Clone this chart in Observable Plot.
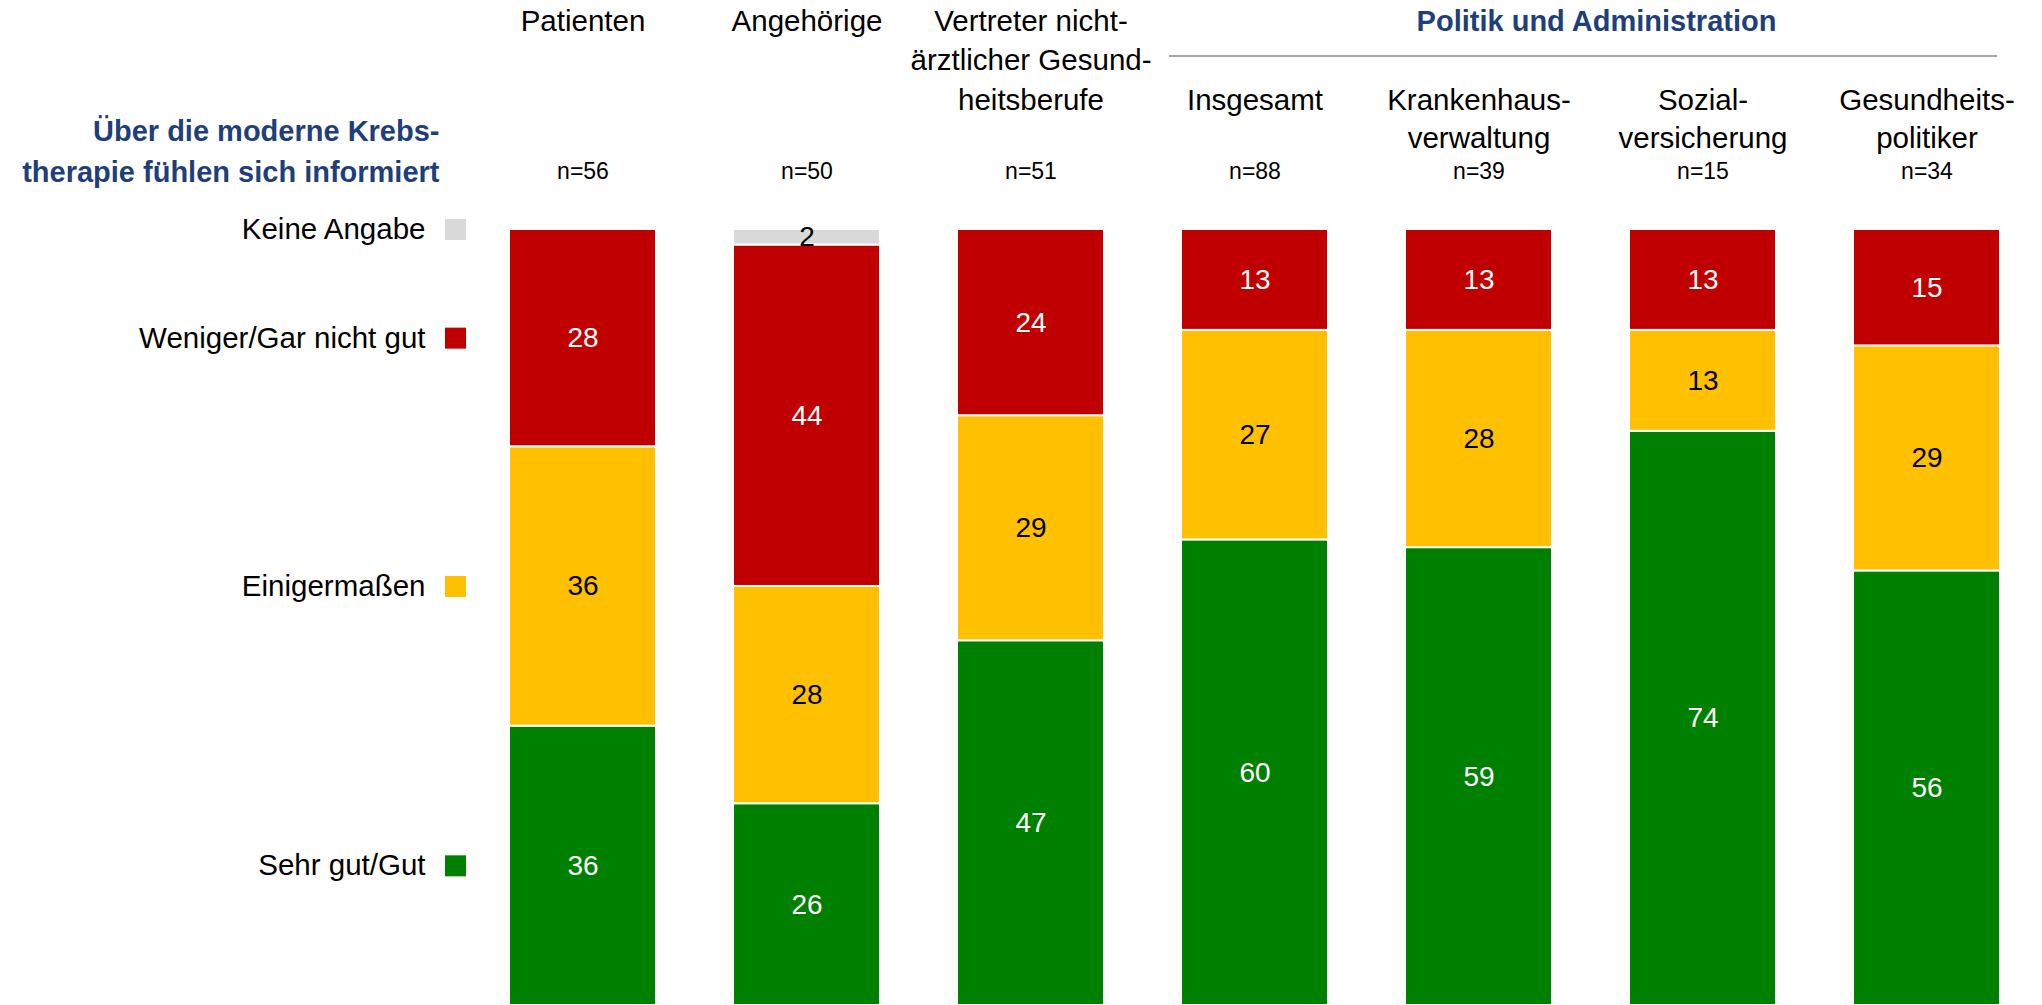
<!DOCTYPE html>
<html>
<head>
<meta charset="utf-8">
<script src="https://cdn.jsdelivr.net/npm/d3@7"></script>
<script src="https://cdn.jsdelivr.net/npm/@observablehq/plot@0.6"></script>
<style>
html, body { margin: 0; padding: 0; background: #fff; overflow: hidden; }
svg { font-family: "Liberation Sans", Arial, sans-serif; }
</style>
</head>
<body>
<div id="chart"></div>
<script>
// ---- data ----
const categories = ["Patienten", "Angehörige", "Vertreter", "Insgesamt", "Krankenhausverwaltung", "Sozialversicherung", "Gesundheitspolitiker"];
const categoryLabels = ["Patienten", "Angehörige", "Vertreter nicht-\närztlicher Gesund-\nheitsberufe", "Insgesamt", "Krankenhaus-\nverwaltung", "Sozial-\nversicherung", "Gesundheits-\npolitiker"];
const sampleSizes = [56, 50, 51, 88, 39, 15, 34];
const groupName = "Politik und Administration";
const groupMembers = ["Insgesamt", "Krankenhausverwaltung", "Sozialversicherung", "Gesundheitspolitiker"];
const seriesNames = ["Sehr gut/Gut", "Einigermaßen", "Weniger/Gar nicht gut", "Keine Angabe"];
const sehrGutGut = [36, 26, 47, 60, 59, 74, 56];
const einigermassen = [36, 28, 29, 27, 28, 13, 29];
const wenigerGarNichtGut = [28, 44, 24, 13, 13, 13, 15];
const keineAngabe = [0, 2, 0, 0, 0, 0, 0];
const titleText = "Über die moderne Krebs-\ntherapie fühlen sich informiert";

// ---- styles ----
const seriesColors = {"Sehr gut/Gut": "#008000", "Einigermaßen": "#ffc000", "Weniger/Gar nicht gut": "#c00000", "Keine Angabe": "#d9d9d9"};
const labelColors = {"Sehr gut/Gut": "#ffffff", "Einigermaßen": "#000000", "Weniger/Gar nicht gut": "#ffffff", "Keine Angabe": "#000000"};
const navy = "#1f3f7a";

const seriesValues = [sehrGutGut, einigermassen, wenigerGarNichtGut, keineAngabe];
const rows = [];
categories.forEach((c, i) => seriesNames.forEach((s, j) => {
  const v = seriesValues[j][i];
  if (v > 0) rows.push({category: c, series: s, value: v});
}));
const labelOf = Object.fromEntries(categories.map((c, i) => [c, categoryLabels[i]]));
const nOf = Object.fromEntries(categories.map((c, i) => [c, sampleSizes[i]]));

// legend positions: midpoints of the first category's stacked segments
let cum = 0;
const legendItems = seriesNames.map((s, j) => {
  const v = seriesValues[j][0];
  const mid = cum + v / 2;
  cum += v;
  return {series: s, y: mid};
});

const stackOpts = {x: "category", y: "value", z: "series", order: seriesNames};

const groupDecoration = (index, scales, values, dims) => {
  const x = scales.x;
  const bw = x.bandwidth();
  const x1 = x(groupMembers[0]) - 12;
  const x2 = x(groupMembers[groupMembers.length - 1]) + bw - 3;
  const g = d3.create("svg:g");
  g.append("line")
    .attr("x1", x1).attr("x2", x2)
    .attr("y1", 56).attr("y2", 56)
    .attr("stroke", "#a6a6a6").attr("stroke-width", 2);
  const cx = (x(groupMembers[1]) + x(groupMembers[2]) + bw) / 2 + 6;
  g.append("text")
    .attr("x", cx).attr("y", 21).attr("dy", "0.35em")
    .attr("text-anchor", "middle")
    .attr("font-size", 29).attr("font-weight", "bold")
    .attr("fill", navy)
    .text(groupName);
  return g.node();
};

const chart = Plot.plot({
  width: 2042,
  height: 1005,
  marginTop: 229,
  marginBottom: 0,
  marginLeft: 506,
  marginRight: 40,
  style: {fontFamily: '"Liberation Sans", Arial, sans-serif', background: "#fff"},
  x: {type: "band", domain: categories, paddingInner: 0.344, paddingOuter: 0, axis: null},
  y: {domain: [0, 100], axis: null},
  color: {type: "identity"},
  marks: [
    Plot.barY(rows, Plot.stackY({...stackOpts, fill: d => seriesColors[d.series], stroke: "white", strokeWidth: 2})),
    Plot.text(rows, Plot.stackY({...stackOpts, text: d => String(d.value), fill: d => labelColors[d.series], fontSize: 28})),
    // column headers
    Plot.text(categories.filter(c => !groupMembers.includes(c)), {x: d => d, text: d => labelOf[d], frameAnchor: "top", lineAnchor: "top", dy: -227, fontSize: 29.5, lineHeight: 1.34, fill: "#000"}),
    Plot.text(groupMembers, {x: d => d, text: d => labelOf[d], frameAnchor: "top", lineAnchor: "top", dy: -146, fontSize: 29.5, lineHeight: 1.27, fill: "#000"}),
    Plot.text(categories, {x: d => d, text: d => "n=" + nOf[d], frameAnchor: "top", dy: -67, fontSize: 23, fill: "#000"}),
    // title
    Plot.text([titleText], {text: d => d, frameAnchor: "top-left", textAnchor: "end", lineAnchor: "middle", dx: -67, dy: -81.5, fontSize: 29, fontWeight: "bold", lineHeight: 1.41, fill: navy}),
    // legend
    Plot.text(legendItems, {y: "y", text: "series", frameAnchor: "left", textAnchor: "end", dx: -81, fontSize: 29.5, fill: "#000"}),
    Plot.dot(legendItems, {y: "y", frameAnchor: "left", dx: -51, symbol: "square", r: 11.85, fill: d => seriesColors[d.series]}),
    groupDecoration
  ]
});
document.getElementById("chart").appendChild(chart);
</script>
</body>
</html>
